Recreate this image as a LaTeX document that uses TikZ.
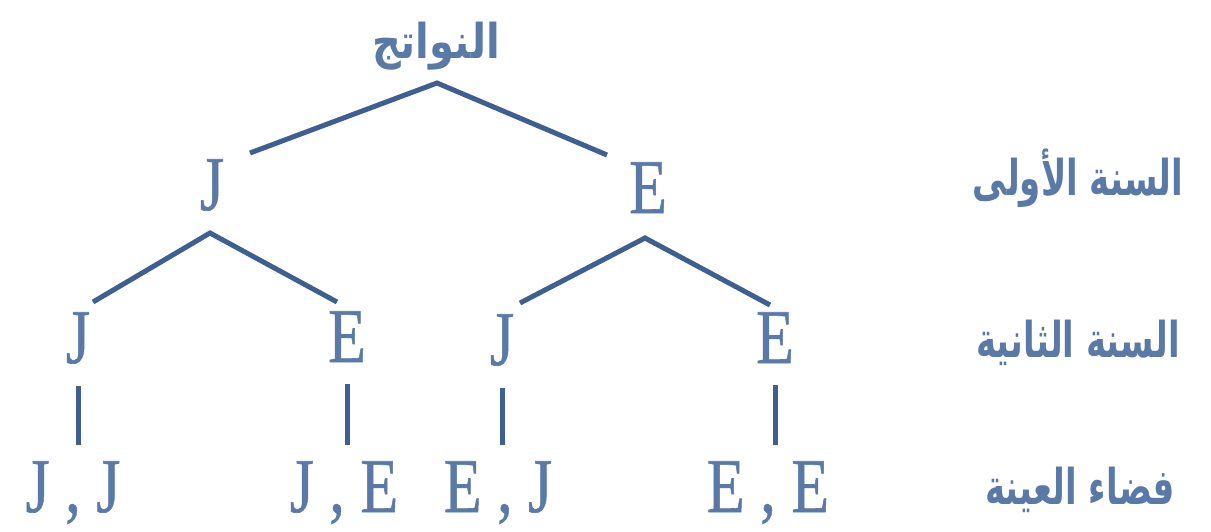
\documentclass[tikz,border=0pt]{standalone}
\usepackage{fontspec}
\usepackage{graphicx}
\setmainfont{Liberation Serif}
\newfontfamily\letfont[FakeBold=0.8]{Liberation Serif}
\newfontfamily\arabicfont[Script=Arabic]{DejaVu Sans}
\TeXXeTstate=1
\usetikzlibrary{positioning}
\definecolor{ink}{HTML}{5A79A6}
\definecolor{edge}{HTML}{3F5F90}
\newcommand{\vlet}[1]{\scalebox{1}[1.25]{#1}}
\newcommand{\varab}[2][1.45]{\scalebox{1}[#1]{\beginR #2\endR}}
\tikzset{
  lett/.style={text=ink, font=\letfont\fontsize{62}{62}\selectfont, inner sep=0pt, anchor=base},
  lab/.style={text=ink, font=\arabicfont\bfseries\fontsize{34}{34}\selectfont, inner sep=0pt},
  branch/.style={draw=edge, line width=5pt},
}

\begin{document}
\begin{tikzpicture}[x=1pt,y=-1pt]
  \useasboundingbox (0,0) rectangle (1211,531);
  % root and year labels
  \node[lab, font=\arabicfont\bfseries\fontsize{40}{40}\selectfont] (top) at (436,46) {\varab[1.2]{النواتج}};
  \node[lab] (yr1) at (1078,178) {\varab{السنة الأولى}};
  \node[lab] (yr2) at (1078,343) {\varab{السنة الثانية}};
  \node[lab] (smp) at (1080,490) {\varab{فضاء العينة}};
  % first year
  \node[lett] (j1) at (212,210) {\vlet{J}};
  \node[lett] (e1) at (648,213) {\vlet{E}};
  % second year
  \node[lett] (j2a) at (78,363) {\vlet{J}};
  \node[lett] (e2a) at (347,362) {\vlet{E}};
  \node[lett] (j2b) at (502,365) {\vlet{J}};
  \node[lett] (e2b) at (775,363) {\vlet{E}};
  % sample space
  \node[lett] (jj) at (73,512) {\vlet{J , J}};
  \node[lett] (je) at (344,512) {\vlet{J , E}};
  \node[lett] (ej) at (498,512) {\vlet{E , J}};
  \node[lett] (ee) at (768,512) {\vlet{E , E}};
  % branch points
  \coordinate (top-fork) at (437,83);
  \coordinate (j1-in) at (250,153);
  \coordinate (e1-in) at (607,155);
  \coordinate (j1-fork) at (210,233);
  \coordinate (j2a-in) at (93,302);
  \coordinate (e2a-in) at (337,302);
  \coordinate (e1-fork) at (645,238);
  \coordinate (j2b-in) at (520,303);
  \coordinate (e2b-in) at (770,305);
  \draw[branch] (j1-in) -- (top-fork) -- (e1-in);
  \draw[branch] (j2a-in) -- (j1-fork) -- (e2a-in);
  \draw[branch] (j2b-in) -- (e1-fork) -- (e2b-in);
  \foreach \a/\b in {j2a/jj, e2a/je, j2b/ej, e2b/ee}
    \draw[branch, shorten <=22pt, shorten >=16pt] (\a.south) -- (\a.south |- \b.north);
\end{tikzpicture}
\end{document}
